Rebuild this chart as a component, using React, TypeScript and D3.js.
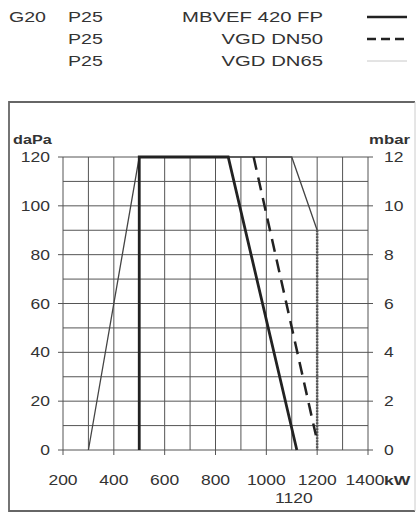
import { scaleLinear, line as d3_line, range } from "d3";

// data
const xTicks = [200, 400, 600, 800, 1000, 1200, 1400];
const yTicks = [0, 20, 40, 60, 80, 100, 120];
const mbarTicks = [0, 2, 4, 6, 8, 10, 12];
const legendNames = ["MBVEF 420 FP", "VGD DN50", "VGD DN65"];
const legendGas = ["G20", "", ""];
const legendPress = ["P25", "P25", "P25"];

const mbvef: [number, number][] = [[500, 0], [500, 120], [850, 120], [1120, 0]];
const dn50: [number, number][] = [[950, 120], [1195, 6]];
const dn65: [number, number][] = [[300, 0], [500, 120], [1100, 120], [1200, 90]];
const dn65Drop: [number, number][] = [[1200, 90], [1200, 0]];

const font = "'Liberation Sans', Arial, sans-serif";

// the scan uses a wide grotesque, so glyphs get stretched sideways
function WText(props: {
  x: number;
  y: number;
  sx: number;
  size: number;
  anchor?: "start" | "middle" | "end";
  bold?: boolean;
  children: React.ReactNode;
}) {
  return (
    <text
      transform={`translate(${props.x},${props.y}) scale(${props.sx},1)`}
      textAnchor={props.anchor ?? "start"}
      fontSize={props.size}
      fontWeight={props.bold ? "bold" : "normal"}
      fill="#333"
    >
      {props.children}
    </text>
  );
}

export default function App() {
  const x = scaleLinear().domain([200, 1400]).range([63, 368]);
  const y = scaleLinear().domain([0, 120]).range([450, 157]);
  const ln = d3_line<[number, number]>()
    .x((d) => x(d[0]))
    .y((d) => y(d[1]));

  return (
    <svg
      width={417}
      height={513}
      style={{ position: "absolute", left: 0, top: 0, background: "#fff" }}
      fontFamily={font}
    >
      {/* legend */}
      {legendNames.map((name, i) => {
        const ly = 17 + i * 22;
        return (
          <g key={name}>
            <WText x={9} y={ly + 5} sx={1.4} size={14}>{legendGas[i]}</WText>
            <WText x={68} y={ly + 5} sx={1.4} size={14}>{legendPress[i]}</WText>
            <WText x={323} y={ly + 5} sx={1.45} size={14} anchor="end">{name}</WText>
            <line
              x1={367}
              x2={407}
              y1={ly}
              y2={ly}
              stroke={i === 2 ? "#c8c8c8" : "#222"}
              strokeWidth={i === 2 ? 1 : 2.5}
              strokeDasharray={i === 1 ? "9,5" : undefined}
            />
          </g>
        );
      })}

      {/* frame */}
      <path d="M415,102 H9 V511 H415" fill="none" stroke="#666" strokeWidth={1.8} />
      <line x1={415} x2={415} y1={102} y2={511} stroke="#ccc" strokeWidth={1} />

      {/* grid */}
      {range(200, 1401, 100).map((v) => (
        <line key={"gx" + v} x1={x(v)} x2={x(v)} y1={y(120)} y2={y(0) + (v % 200 === 0 ? 5 : 0)} stroke="#555" strokeWidth={1} />
      ))}
      {range(0, 121, 10).map((v) => (
        <line
          key={"gy" + v}
          x1={x(200) - (v % 20 === 0 ? 5 : 0)}
          x2={x(1400) + (v % 20 === 0 ? 5 : 0)}
          y1={y(v)}
          y2={y(v)}
          stroke="#555"
          strokeWidth={1}
        />
      ))}

      {/* axis labels */}
      {yTicks.map((v) => (
        <WText key={"yl" + v} x={50} y={y(v) + 5} sx={1.25} size={14} anchor="end">
          {v}
        </WText>
      ))}
      {mbarTicks.map((v) => (
        <WText key={"yr" + v} x={384} y={y(v * 10) + 5} sx={1.25} size={14}>
          {v}
        </WText>
      ))}
      {xTicks.map((v) => (
        <WText key={"xl" + v} x={v === 1400 ? x(v) - 3 : x(v)} y={485} sx={1.25} size={14} anchor="middle">
          {v}
        </WText>
      ))}
      <WText x={x(1120) - 3} y={503} sx={1.25} size={14} anchor="middle">1120</WText>
      <WText x={13} y={144} sx={1.35} size={12} bold>daPa</WText>
      <WText x={369} y={144} sx={1.4} size={12} bold>mbar</WText>
      <WText x={384} y={485} sx={1.35} size={13} bold>kW</WText>

      {/* curves */}
      <path d={ln(dn65) ?? ""} fill="none" stroke="#444" strokeWidth={1.3} />
      <path d={ln(dn65Drop) ?? ""} fill="none" stroke="#555" strokeWidth={2.5} strokeDasharray="2,1" />
      <path d={ln(dn50) ?? ""} fill="none" stroke="#222" strokeWidth={2.5} strokeDasharray="13,8" />
      <path d={ln(mbvef) ?? ""} fill="none" stroke="#222" strokeWidth={2.8} />
    </svg>
  );
}
